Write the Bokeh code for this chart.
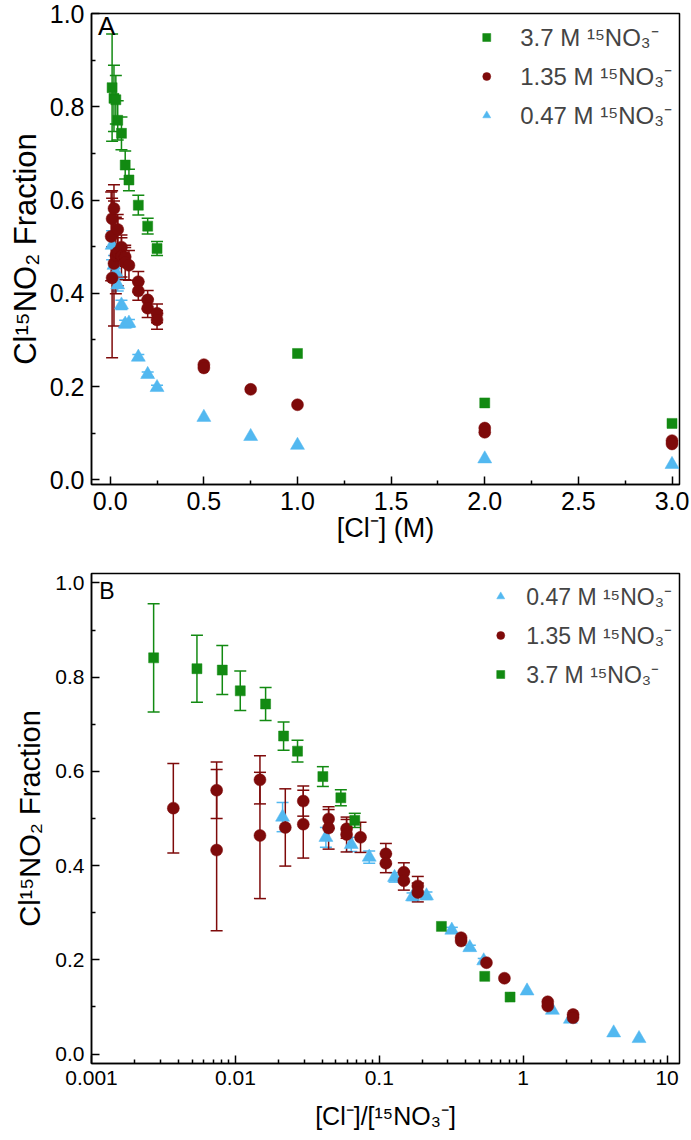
from bokeh.plotting import figure
from bokeh.layouts import column
from bokeh.models import (ColumnDataSource, Whisker, TeeHead, Legend, LegendItem,
                          FixedTicker, PrintfTickFormatter, CustomJSTickFormatter, Label, Range1d)
from bokeh.embed import file_html
from bokeh.resources import INLINE

# ---------------- data ----------------
# nitrate concentrations (M)
no3_hi = 3.7
no3_mid = 1.35
no3_lo = 0.47

# 3.7 M 15NO3- series
cl_hi = [0.01, 0.02, 0.03, 0.04, 0.06, 0.08, 0.10, 0.15, 0.20, 0.25, 1.0, 2.0, 3.0]
frac_hi = [0.841, 0.818, 0.815, 0.771, 0.743, 0.675, 0.643, 0.589, 0.544, 0.496, 0.271, 0.165, 0.121]
err_hi = [0.115, 0.071, 0.052, 0.042, 0.035, 0.030, 0.023, 0.021, 0.017, 0.015, 0.0, 0.0, 0.0]

# 1.35 M 15NO3- series
cl_mid = [0.005, 0.01, 0.01, 0.02, 0.02, 0.03, 0.04, 0.04, 0.06, 0.06, 0.08, 0.08, 0.10,
          0.15, 0.15, 0.20, 0.20, 0.25, 0.25, 0.5, 0.5, 0.75, 1.0, 2.0, 2.0, 3.0, 3.0]
frac_mid = [0.522, 0.560, 0.433, 0.582, 0.464, 0.481, 0.537, 0.488, 0.499, 0.480, 0.478, 0.466, 0.460,
            0.425, 0.405, 0.386, 0.368, 0.357, 0.343, 0.247, 0.240, 0.194, 0.161, 0.111, 0.102, 0.084, 0.077]
err_mid = [0.095, 0.060, 0.171, 0.051, 0.134, 0.082, 0.032, 0.072, 0.020, 0.045, 0.020, 0.037, 0.032,
           0.022, 0.020, 0.020, 0.020, 0.020, 0.020, 0.0, 0.0, 0.0, 0.0, 0.0, 0.0, 0.0, 0.0]

# 0.47 M 15NO3- series
cl_lo = [0.01, 0.02, 0.03, 0.04, 0.06, 0.08, 0.10, 0.15, 0.20, 0.25, 0.5, 0.75, 1.0, 2.0, 3.0]
frac_lo = [0.503, 0.460, 0.445, 0.418, 0.375, 0.334, 0.336, 0.263, 0.226, 0.198, 0.134, 0.093, 0.074, 0.045, 0.033]
err_lo = [0.031, 0.021, 0.015, 0.013, 0.010, 0.008, 0.008, 0.006, 0.005, 0.005, 0.0, 0.0, 0.0, 0.0, 0.0]

labels = ["3.7 M \u00b9\u2075NO\u2083\u207b", "1.35 M \u00b9\u2075NO\u2083\u207b", "0.47 M \u00b9\u2075NO\u2083\u207b"]
ylabel = "Cl\u00b9\u2075NO\u2082 Fraction"
xlabel_a = "[Cl\u207b] (M)"
xlabel_b = "[Cl\u207b]/[\u00b9\u2075NO\u2083\u207b]"

xticks_a = [0.0, 0.5, 1.0, 1.5, 2.0, 2.5, 3.0]
yticks = [0.0, 0.2, 0.4, 0.6, 0.8, 1.0]
xticks_b = [0.001, 0.01, 0.1, 1, 10]

GREEN = "#128A12"
RED = "#7E0A0A"
BLUE = "#52B8F0"
FONT = "Liberation Sans"

series = [
    ("hi", no3_hi, cl_hi, frac_hi, err_hi, GREEN, "square", 10, labels[0]),
    ("mid", no3_mid, cl_mid, frac_mid, err_mid, RED, "circle", 12, labels[1]),
    ("lo", no3_lo, cl_lo, frac_lo, err_lo, BLUE, "triangle", 14, labels[2]),
]


def make_source(no3, cl, fr, er):
    ratio = [c / no3 for c in cl]
    return ColumnDataSource(dict(cl=cl, ratio=ratio, frac=fr,
                                 up=[f + e for f, e in zip(fr, er)],
                                 lo=[f - e for f, e in zip(fr, er)], err=er))


def make_err_source(no3, cl, fr, er):
    idx = [i for i, e in enumerate(er) if e > 0]
    return make_source(no3, [cl[i] for i in idx], [fr[i] for i in idx], [er[i] for i in idx])


def style(p, tick_size):
    p.outline_line_color = "black"
    p.outline_line_width = 1.5
    p.xgrid.visible = False
    p.ygrid.visible = False
    p.background_fill_color = "white"
    p.border_fill_color = "white"
    for ax in (p.xaxis[0], p.yaxis[0]):
        ax.axis_line_width = 1.5
        ax.axis_line_color = "black"
        ax.major_tick_in = 8
        ax.major_tick_out = 0
        ax.minor_tick_in = 4
        ax.minor_tick_out = 0
        ax.major_tick_line_width = 1.5
        ax.minor_tick_line_width = 1.5
        ax.major_label_text_font = FONT
        ax.major_label_text_font_size = f"{tick_size}px"
        ax.major_label_text_color = "black"
        ax.axis_label_text_font = FONT
        ax.axis_label_text_font_style = "normal"
        ax.axis_label_text_color = "black"
        ax.major_label_standoff = 7


# ---------------- panel A ----------------
pA = figure(width=691, height=545, output_backend="svg", toolbar_location=None,
            x_range=Range1d(-0.1, 3.04), y_range=Range1d(-0.01, 1.0),
            min_border_left=91, min_border_right=12, min_border_top=13, min_border_bottom=61)
style(pA, 25)
pA.xaxis.axis_label = xlabel_a
pA.yaxis.axis_label = ylabel
pA.xaxis.axis_label_text_font_size = "27px"
pA.yaxis.axis_label_text_font_size = "31px"
pA.xaxis.axis_label_standoff = 0
pA.yaxis.axis_label_standoff = 4
pA.xaxis.ticker = FixedTicker(ticks=xticks_a, minor_ticks=[t + 0.25 for t in xticks_a[:-1]])
pA.yaxis.ticker = FixedTicker(ticks=yticks, minor_ticks=[t + 0.1 for t in yticks[:-1]])
pA.xaxis.formatter = PrintfTickFormatter(format="%.1f")
pA.yaxis.formatter = PrintfTickFormatter(format="%.1f")

rendA = {}
for key, no3, cl, fr, er, col, mk, sz, lab in reversed(series):
    es = make_err_source(no3, cl, fr, er)
    w = Whisker(source=es, base="cl", upper="up", lower="lo", line_color=col, line_width=1.5,
                upper_head=TeeHead(size=12, line_color=col, line_width=1.5),
                lower_head=TeeHead(size=12, line_color=col, line_width=1.5))
    pA.add_layout(w)
for key, no3, cl, fr, er, col, mk, sz, lab in reversed(series):
    src = make_source(no3, cl, fr, er)
    rendA[key] = pA.scatter("cl", "frac", source=src, marker=mk, size=sz,
                            fill_color=col, line_color=col, line_width=0.5)

legA = Legend(items=[LegendItem(label=labels[0], renderers=[rendA["hi"]]),
                     LegendItem(label=labels[1], renderers=[rendA["mid"]]),
                     LegendItem(label=labels[2], renderers=[rendA["lo"]])],
              location="top_right", background_fill_alpha=0, border_line_alpha=0,
              label_text_font=FONT, label_text_font_size="24px", label_standoff=24,
              glyph_width=20, glyph_height=20, spacing=6, padding=4, margin=3)
pA.add_layout(legA)
pA.add_layout(Label(x=-0.065, y=0.94, text="A", text_font=FONT, text_font_size="26px",
                    text_color="black", text_baseline="bottom"))

# ---------------- panel B ----------------
pB = figure(width=691, height=595, output_backend="svg", toolbar_location=None,
            x_axis_type="log", x_range=Range1d(0.001, 12.2), y_range=Range1d(-0.02, 1.02),
            min_border_left=78, min_border_right=4, min_border_top=28, min_border_bottom=77)
style(pB, 21)
pB.xaxis.axis_label = xlabel_b
pB.yaxis.axis_label = ylabel
pB.xaxis.axis_label_text_font_size = "25px"
pB.yaxis.axis_label_text_font_size = "29px"
pB.xaxis.axis_label_standoff = 14
pB.yaxis.axis_label_standoff = 6
minor_b = [m * d for d in [0.001, 0.01, 0.1, 1] for m in range(2, 10)]
pB.xaxis.ticker = FixedTicker(ticks=xticks_b, minor_ticks=minor_b)
pB.xaxis.formatter = CustomJSTickFormatter(code="return Number(tick.toPrecision(6)).toString();")
pB.yaxis.ticker = FixedTicker(ticks=yticks, minor_ticks=[t + 0.1 for t in yticks[:-1]])
pB.yaxis.formatter = PrintfTickFormatter(format="%.1f")

rendB = {}
order_b = [series[2], series[1], series[0]]
for key, no3, cl, fr, er, col, mk, sz, lab in order_b:
    es = make_err_source(no3, cl, fr, er)
    w = Whisker(source=es, base="ratio", upper="up", lower="lo", line_color=col, line_width=1.5,
                upper_head=TeeHead(size=12, line_color=col, line_width=1.5),
                lower_head=TeeHead(size=12, line_color=col, line_width=1.5))
    pB.add_layout(w)
for key, no3, cl, fr, er, col, mk, sz, lab in order_b:
    src = make_source(no3, cl, fr, er)
    rendB[key] = pB.scatter("ratio", "frac", source=src, marker=mk, size=sz,
                            fill_color=col, line_color=col, line_width=0.5)

legB = Legend(items=[LegendItem(label=labels[2], renderers=[rendB["lo"]]),
                     LegendItem(label=labels[1], renderers=[rendB["mid"]]),
                     LegendItem(label=labels[0], renderers=[rendB["hi"]])],
              location="top_right", background_fill_alpha=0, border_line_alpha=0,
              label_text_font=FONT, label_text_font_size="23px", label_standoff=16,
              glyph_width=20, glyph_height=20, spacing=7, padding=4, margin=3)
pB.add_layout(legB)
pB.add_layout(Label(x=0.00113, y=0.955, text="B", text_font=FONT, text_font_size="23px",
                    text_color="black", text_baseline="bottom"))

layout = column(pA, pB)
open("out.html", "w").write(file_html(layout, INLINE))
